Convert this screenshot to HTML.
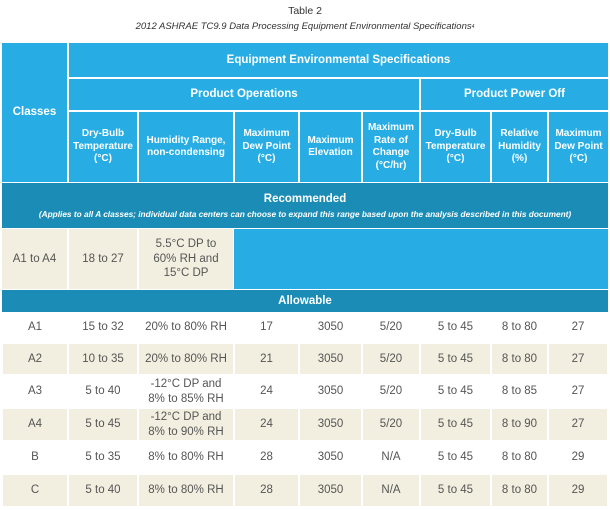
<!DOCTYPE html><html><head><style>
body{margin:0;width:610px;height:510px;background:#fff;font-family:"Liberation Sans",sans-serif;position:relative;overflow:hidden}
.c{position:absolute;display:flex;align-items:center;justify-content:center;text-align:center;box-sizing:border-box;line-height:1.25}
.h{background:#27ade3;color:#fff;font-weight:bold;font-size:10px}
.hb{background:#27ade3;color:#fff;font-weight:bold;font-size:11.5px}
.d{background:#1b8cb5;color:#fff}
.b{background:#f3efe0}
.t{color:#555;font-size:11.5px}
</style></head><body>
<div class="c" style="left:0;top:5px;width:610px;height:14px;font-size:10.5px;color:#333">Table 2</div>
<div class="c" style="left:0;top:20px;width:610px;height:14px;font-size:9.5px;color:#333;font-style:italic">2012 ASHRAE TC9.9 Data Processing Equipment Environmental Specifications<sup style="font-size:5px">4</sup></div>

<div class="c hb" style="left:2px;top:43px;width:65px;height:139px">Classes</div>
<div class="c hb" style="left:69px;top:43px;width:539px;height:34px">Equipment Environmental Specifications</div>
<div class="c hb" style="left:69px;top:79px;width:350px;height:31px">Product Operations</div>
<div class="c hb" style="left:421px;top:79px;width:187px;height:31px">Product Power Off</div>

<div class="c h" style="left:69px;top:112px;width:68px;height:70px">Dry-Bulb<br>Temperature<br>(°C)</div>
<div class="c h" style="left:139px;top:112px;width:94px;height:70px">Humidity Range,<br>non-condensing</div>
<div class="c h" style="left:235px;top:112px;width:63px;height:70px">Maximum<br>Dew Point<br>(°C)</div>
<div class="c h" style="left:300px;top:112px;width:61px;height:70px">Maximum<br>Elevation</div>
<div class="c h" style="left:363px;top:112px;width:56px;height:70px">Maximum<br>Rate of<br>Change<br>(°C/hr)</div>
<div class="c h" style="left:421px;top:112px;width:69px;height:70px">Dry-Bulb<br>Temperature<br>(°C)</div>
<div class="c h" style="left:492px;top:112px;width:55px;height:70px">Relative<br>Humidity<br>(%)</div>
<div class="c h" style="left:549px;top:112px;width:59px;height:70px">Maximum<br>Dew Point<br>(°C)</div>

<div class="c d" style="left:2px;top:183px;width:606px;height:45px;flex-direction:column">
<div style="font-size:11.5px;font-weight:bold">Recommended</div>
<div style="font-size:8.3px;font-style:italic;font-weight:bold;margin-top:3px">(Applies to all A classes; individual data centers can choose to expand this range based upon the analysis described in this document)</div></div>

<div class="c b t" style="left:2px;top:229px;width:65px;height:60px">A1 to A4</div>
<div class="c b t" style="left:69px;top:229px;width:68px;height:60px">18 to 27</div>
<div class="c b t" style="left:139px;top:229px;width:94px;height:60px">5.5°C DP to<br>60% RH and<br>15°C DP</div>
<div class="c" style="left:234px;top:229px;width:374px;height:60px;background:#27ade3"></div>

<div class="c d" style="left:2px;top:290px;width:606px;height:22px;font-size:11.5px;font-weight:bold">Allowable</div>

<div id="rows"></div>
<script>
var E=[2,68,138,234,299,362,420,491,548,608];
var Y=[312,343,375,408,441,474,507];
var R=[["A1","15 to 32","20% to 80% RH","17","3050","5/20","5 to 45","8 to 80","27"],
["A2","10 to 35","20% to 80% RH","21","3050","5/20","5 to 45","8 to 80","27"],
["A3","5 to 40","-12°C DP and<br>8% to 85% RH","24","3050","5/20","5 to 45","8 to 85","27"],
["A4","5 to 45","-12°C DP and<br>8% to 90% RH","24","3050","5/20","5 to 45","8 to 90","27"],
["B","5 to 35","8% to 80% RH","28","3050","N/A","5 to 45","8 to 80","29"],
["C","5 to 40","8% to 80% RH","28","3050","N/A","5 to 45","8 to 80","29"]];
var h="";
for(var i=0;i<6;i++)for(var j=0;j<9;j++){
h+='<div class="c t'+(i%2?' b':'')+'" style="left:'+(E[j]+1)+'px;top:'+(Y[i]+1)+'px;width:'+(E[j+1]-E[j]-2)+'px;height:'+(Y[i+1]-Y[i]-2)+'px">'+R[i][j]+'</div>';}
document.getElementById("rows").outerHTML=h;
</script>
</body></html>
